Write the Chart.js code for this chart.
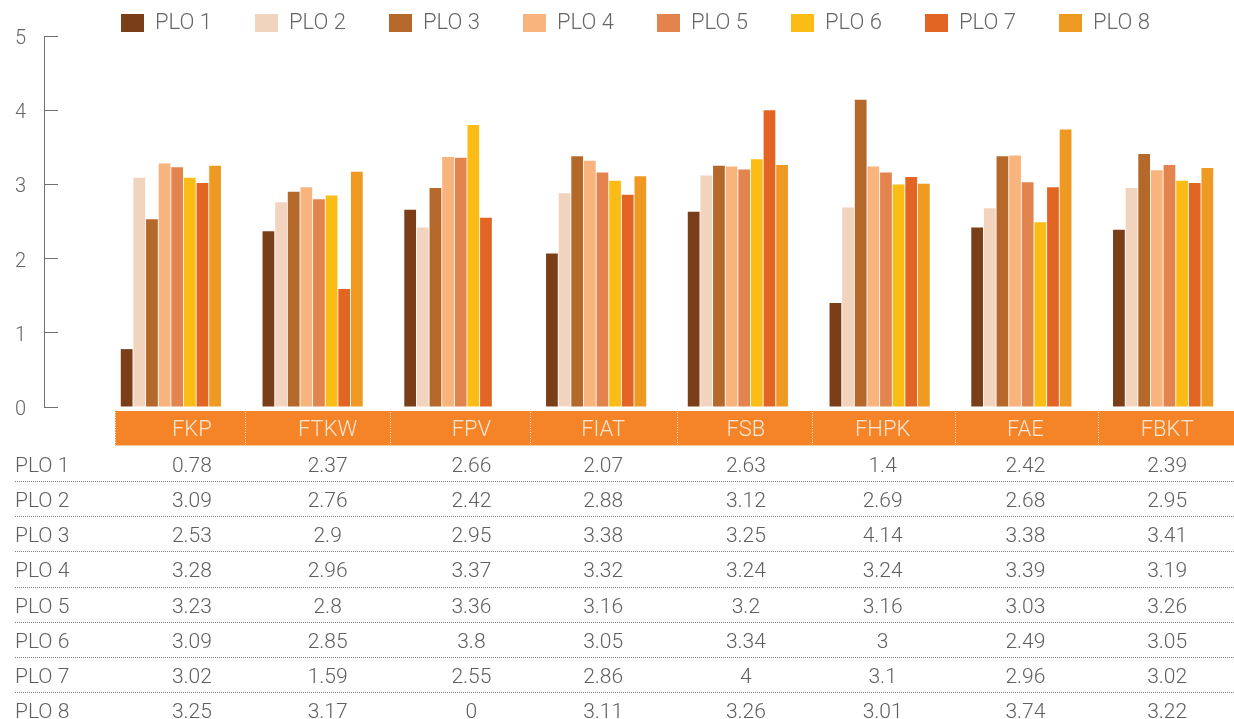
<!DOCTYPE html>
<html>
<head>
<meta charset="utf-8">
<script src="https://cdn.jsdelivr.net/npm/chart.js@4/dist/chart.umd.min.js"></script>
<style>
  html, body { margin: 0; padding: 0; background: #ffffff; }
  #wrap { width: 1234px; height: 719px; position: relative; }
  canvas { display: block; }
</style>
</head>
<body>
<div id="wrap"><canvas id="chart" width="1234" height="719"></canvas></div>
<script>
// ---------------- data ----------------
const categories = ['FKP', 'FTKW', 'FPV', 'FIAT', 'FSB', 'FHPK', 'FAE', 'FBKT'];
const seriesNames = ['PLO 1', 'PLO 2', 'PLO 3', 'PLO 4', 'PLO 5', 'PLO 6', 'PLO 7', 'PLO 8'];
const plo1 = [0.78, 2.37, 2.66, 2.07, 2.63, 1.4, 2.42, 2.39];
const plo2 = [3.09, 2.76, 2.42, 2.88, 3.12, 2.69, 2.68, 2.95];
const plo3 = [2.53, 2.9, 2.95, 3.38, 3.25, 4.14, 3.38, 3.41];
const plo4 = [3.28, 2.96, 3.37, 3.32, 3.24, 3.24, 3.39, 3.19];
const plo5 = [3.23, 2.8, 3.36, 3.16, 3.2, 3.16, 3.03, 3.26];
const plo6 = [3.09, 2.85, 3.8, 3.05, 3.34, 3, 2.49, 3.05];
const plo7 = [3.02, 1.59, 2.55, 2.86, 4, 3.1, 2.96, 3.02];
const plo8 = [3.25, 3.17, 0, 3.11, 3.26, 3.01, 3.74, 3.22];
const yTickValues = [0, 1, 2, 3, 4, 5];

// ---------------- styles ----------------
const seriesValues = [plo1, plo2, plo3, plo4, plo5, plo6, plo7, plo8];
const seriesColors = ['#7a3e18', '#f2d3bd', '#b4692a', '#f8b47c', '#e3834d', '#fbbc16', '#e26524', '#ee9a22'];
const FONT_FAMILY = 'Roboto, "Open Sans", "Noto Sans", sans-serif';
const TEXT_GRAY = '#5f5f5f';
const AXIS_GRAY = '#707070';
const HEADER_ORANGE = '#f58428';
const HEADER_TEXT = '#fde6d2';

// table layout (relative to the x scale / chart area)
const TABLE = {
  headerGap: 4,
  headerHeight: 35,
  bandLeftInset: 15,
  edgeShift: [15, 3, 6, 5, 10, 3, 4, 6],
  textShift: [21, 15, 17, 7, 8, 3, 4, 4],
  rowHeight: 35.2,
  firstRowOffset: 20.5,
  labelX: 15
};

const LEGEND = { itemLeft: 121, itemTop: 12, step: 134, boxW: 23, boxH: 18, fontSize: 22 };

Chart.defaults.font.family = FONT_FAMILY;
Chart.defaults.font.weight = 300;
Chart.defaults.color = TEXT_GRAY;

const measureCtx = document.createElement('canvas').getContext('2d');
measureCtx.font = '300 ' + LEGEND.fontSize + 'px ' + FONT_FAMILY;
const legendTextW = measureCtx.measureText(seriesNames[0]).width;
const legendPadding = Math.max(4, LEGEND.step - (LEGEND.boxW + LEGEND.fontSize / 2 + legendTextW));

const legendPlacer = {
  id: 'legendPlacer',
  afterLayout(chart) {
    const lg = chart.legend;
    if (!lg) return;
    const w = lg.right - lg.left;
    lg.left = LEGEND.itemLeft - legendPadding;
    lg.right = lg.left + w;
    lg.top = LEGEND.itemTop - legendPadding;
    lg.bottom = LEGEND.itemTop + LEGEND.fontSize + 8;
    lg.width = lg.right - lg.left;
    lg.height = lg.bottom - lg.top;
  }
};

const dataTable = {
  id: 'dataTable',
  afterDraw(chart) {
    const { ctx, chartArea: area } = chart;
    const x = chart.scales.x;
    const n = categories.length;
    const catW = x.getPixelForValue(1) - x.getPixelForValue(0);
    const edges = [];
    for (let i = 0; i < n; i++) {
      edges.push(x.getPixelForValue(i) - catW / 2 + TABLE.edgeShift[i]);
    }
    edges[0] = area.left + TABLE.bandLeftInset;
    edges.push(area.right);
    const centers = categories.map((c, i) => x.getPixelForValue(i) + TABLE.textShift[i]);

    const bandTop = area.bottom + TABLE.headerGap;
    const bandBottom = bandTop + TABLE.headerHeight;

    ctx.save();
    ctx.fillStyle = HEADER_ORANGE;
    ctx.fillRect(edges[0], bandTop, edges[n] - edges[0], TABLE.headerHeight);
    ctx.fillStyle = '#f9c79c';
    ctx.fillRect(edges[0], bandBottom - 1, edges[n] - edges[0], 1);
    ctx.strokeStyle = 'rgba(255,255,255,0.85)';
    ctx.lineWidth = 1;
    ctx.setLineDash([1, 1.5]);
    for (let i = 0; i < n; i++) {
      const ex = Math.round(edges[i]) + 0.5;
      ctx.beginPath();
      ctx.moveTo(ex, bandTop + 1);
      ctx.lineTo(ex, bandBottom - 1);
      ctx.stroke();
    }
    ctx.setLineDash([]);
    ctx.textAlign = 'center';
    ctx.textBaseline = 'middle';
    ctx.fillStyle = HEADER_TEXT;
    ctx.font = '300 22px ' + FONT_FAMILY;
    categories.forEach((c, i) => ctx.fillText(c, centers[i], (bandTop + bandBottom) / 2 + 2));

    ctx.font = '300 21px ' + FONT_FAMILY;
    seriesNames.forEach((name, r) => {
      const cy = bandBottom + TABLE.firstRowOffset + r * TABLE.rowHeight;
      ctx.fillStyle = TEXT_GRAY;
      ctx.textAlign = 'left';
      ctx.fillText(name, TABLE.labelX, cy);
      ctx.textAlign = 'center';
      seriesValues[r].forEach((v, i) => ctx.fillText(String(v), centers[i], cy));
      if (r < seriesNames.length - 1) {
        const ly = Math.round(bandBottom + (r + 1) * TABLE.rowHeight - 0.3) + 0.5;
        ctx.strokeStyle = '#7a7a7a';
        ctx.lineWidth = 1;
        ctx.setLineDash([1, 1]);
        ctx.beginPath();
        ctx.moveTo(TABLE.labelX, ly);
        ctx.lineTo(area.right, ly);
        ctx.stroke();
        ctx.setLineDash([]);
      }
    });
    ctx.restore();
  }
};

new Chart(document.getElementById('chart'), {
  type: 'bar',
  data: {
    labels: categories,
    datasets: seriesNames.map((name, i) => ({
      label: name,
      data: seriesValues[i],
      backgroundColor: seriesColors[i],
      borderWidth: 0,
      categoryPercentage: 0.713,
      barPercentage: 0.93
    }))
  },
  options: {
    responsive: false,
    animation: false,
    layout: { padding: { top: 0, left: 0, right: 0, bottom: 312 } },
    plugins: {
      legend: {
        display: true,
        position: 'top',
        align: 'start',
        maxHeight: 36,
        labels: {
          boxWidth: LEGEND.boxW,
          boxHeight: LEGEND.boxH,
          padding: legendPadding,
          color: '#666666',
          font: { size: LEGEND.fontSize, weight: 300, family: FONT_FAMILY }
        }
      },
      tooltip: { enabled: false }
    },
    scales: {
      x: {
        type: 'category',
        display: false,
        offset: true,
        grid: { display: false }
      },
      y: {
        position: 'left',
        weight: 10,
        min: 0,
        max: 5,
        afterBuildTicks(scale) { scale.ticks = yTickValues.map(v => ({ value: v })); },
        afterFit(scale) {
          scale.width = 44;
          scale.paddingTop = 12;
          scale.paddingBottom = 12;
        },
        ticks: {
          padding: 32,
          labelOffset: 3,
          color: '#666666',
          font: { size: 20, weight: 300, family: FONT_FAMILY }
        },
        grid: { drawOnChartArea: false, drawTicks: true, tickLength: -14, color: AXIS_GRAY, lineWidth: 1 },
        border: { display: true, color: AXIS_GRAY, width: 1 }
      },
      ySpacer: {
        type: 'linear',
        position: 'left',
        weight: 0,
        display: true,
        afterFit(scale) { scale.width = 56; scale.paddingTop = 0; scale.paddingBottom = 0; },
        ticks: { display: false },
        grid: { display: false },
        border: { display: false }
      }
    }
  },
  plugins: [legendPlacer, dataTable]
});
</script>
</body>
</html>
